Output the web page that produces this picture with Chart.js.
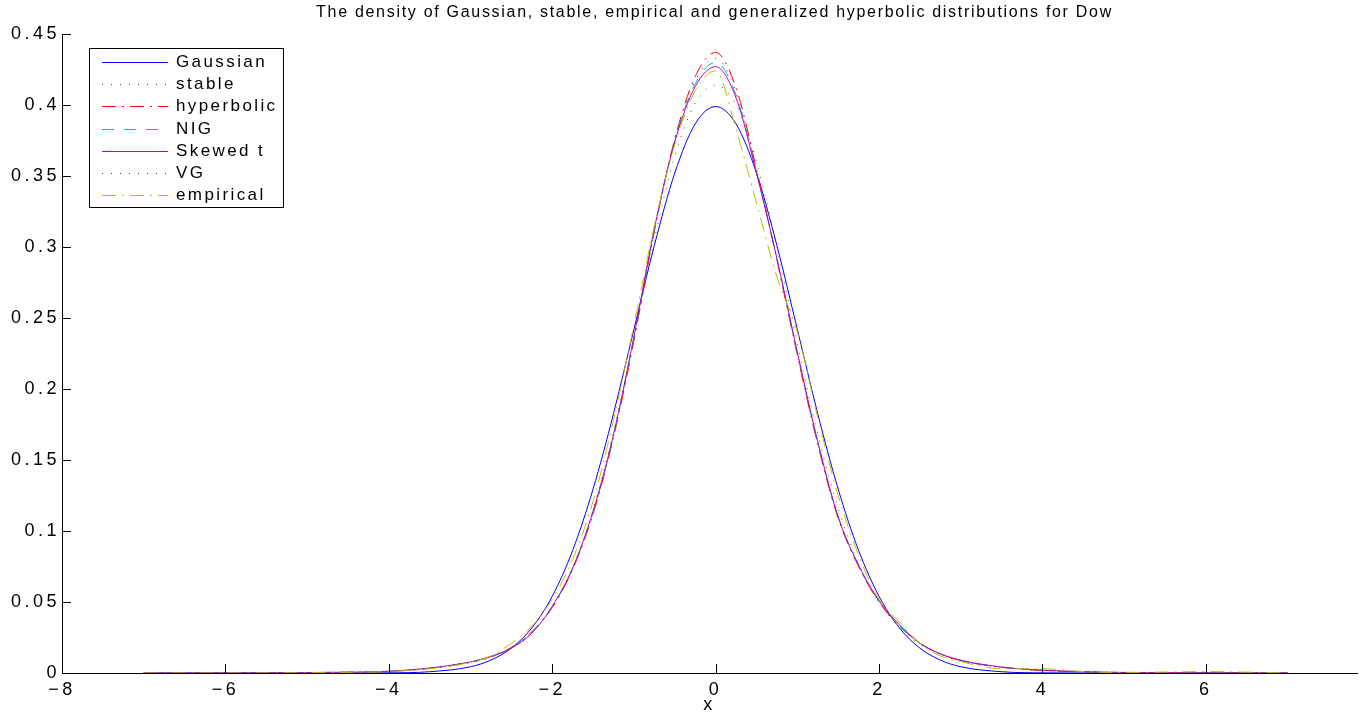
<!DOCTYPE html>
<html>
<head>
<meta charset="utf-8">
<script src="https://cdn.jsdelivr.net/npm/chart.js@4/dist/chart.umd.min.js"></script>
<style>
  html, body { margin: 0; padding: 0; background: #fff; }
  #density-chart { display: block; }
</style>
</head>
<body>
<canvas id="density-chart" width="1368" height="715"></canvas>
<script>
const titleText = 'The density of Gaussian, stable, empirical and generalized hyperbolic distributions for Dow';
const xAxisTitle = 'x';

const xTicks = [-8, -6, -4, -2, 0, 2, 4, 6];
const yTicks = [0, 0.05, 0.1, 0.15, 0.2, 0.25, 0.3, 0.35, 0.4, 0.45];

const seriesNames = ['Gaussian', 'stable', 'hyperbolic', 'NIG', 'Skewed t', 'VG', 'empirical'];

// x grid the densities were read on
const xs = [-7, -6, -5, -4.5, -4, -3.5, -3, -2.75, -2.5, -2.25, -2, -1.75, -1.5, -1.25, -1, -0.75, -0.5, -0.25,
    0, 0.25, 0.5, 0.75, 1, 1.25, 1.5, 1.75, 2, 2.25, 2.5, 2.75, 3, 3.5, 4, 4.5, 5, 6, 7];

const gaussian = [0, 0, 0, 0.00002, 0.0001, 0.0009, 0.0044, 0.0091, 0.0175, 0.0317, 0.054, 0.0863, 0.1295, 0.1826, 0.242, 0.3011, 0.3521, 0.3867,
    0.3989, 0.3867, 0.3521, 0.3011, 0.242, 0.1826, 0.1295, 0.0863, 0.054, 0.0317, 0.0175, 0.0091, 0.0044, 0.0009, 0.0001, 0.00002, 0, 0, 0];

const stable = [0.0001, 0.0002, 0.0004, 0.0007, 0.0012, 0.003, 0.0072, 0.011, 0.018, 0.029, 0.047, 0.074, 0.115, 0.17, 0.236, 0.305, 0.364, 0.401,
    0.414, 0.4, 0.36, 0.3, 0.232, 0.168, 0.116, 0.077, 0.05, 0.032, 0.02, 0.013, 0.0085, 0.004, 0.0018, 0.0009, 0.0005, 0.0002, 0.0001];

const hyperbolic = [0, 0, 0.0002, 0.0005, 0.0011, 0.0033, 0.0078, 0.0118, 0.018, 0.029, 0.046, 0.073, 0.112, 0.166, 0.234, 0.311, 0.376, 0.42,
    0.437, 0.412, 0.355, 0.291, 0.224, 0.161, 0.109, 0.075, 0.05, 0.033, 0.021, 0.0135, 0.0088, 0.004, 0.0018, 0.0008, 0.0003, 0, 0];

const nig = [0, 0.0001, 0.0003, 0.0006, 0.0012, 0.0034, 0.0078, 0.0117, 0.0178, 0.0285, 0.0465, 0.0735, 0.113, 0.167, 0.236, 0.312, 0.375, 0.415,
    0.43, 0.407, 0.353, 0.292, 0.225, 0.162, 0.11, 0.0755, 0.0505, 0.0335, 0.021, 0.0135, 0.0089, 0.0041, 0.0019, 0.0008, 0.0003, 0.0001, 0];

const skewedT = [0, 0.0001, 0.0003, 0.0006, 0.0012, 0.0035, 0.0078, 0.0115, 0.0175, 0.028, 0.047, 0.074, 0.114, 0.168, 0.237, 0.313, 0.374, 0.413,
    0.427, 0.405, 0.352, 0.292, 0.226, 0.163, 0.11, 0.076, 0.051, 0.034, 0.021, 0.0135, 0.009, 0.0042, 0.002, 0.0009, 0.0004, 0.0001, 0];

const vg = [0, 0, 0.0002, 0.0005, 0.0011, 0.0032, 0.0077, 0.0116, 0.0178, 0.0285, 0.0462, 0.0732, 0.1125, 0.1665, 0.235, 0.312, 0.376, 0.417,
    0.433, 0.409, 0.354, 0.291, 0.224, 0.1615, 0.1095, 0.075, 0.05, 0.033, 0.0208, 0.0133, 0.0087, 0.004, 0.0018, 0.0008, 0.0003, 0, 0];

const empirical = [0, 0, 0.0002, 0.0005, 0.001, 0.003, 0.0075, 0.012, 0.021, 0.033, 0.052, 0.08, 0.121, 0.178, 0.245, 0.315, 0.372, 0.41,
    0.424, 0.383, 0.331, 0.279, 0.24, 0.18, 0.125, 0.083, 0.052, 0.036, 0.021, 0.012, 0.008, 0.003, 0.003, 0.001, 0.0004, 0.001, 0];

const seriesValues = [gaussian, stable, hyperbolic, nig, skewedT, vg, empirical];

// matlab default colour order and line specs: - : -. -- - : -.
function getColor(i) {
    return ['#0000ff', '#008000', '#ff0000', '#00bfbf', '#bf00bf', '#404040', '#bfbf00'][i];
}

function getDash(i) {
    return [[], [1, 8], [14, 6, 2, 6], [12, 10], [], [1, 8], [14, 6, 2, 6]][i];
}

const FONT = '"Liberation Sans", Arial, sans-serif';

// matlab draws its ticks inside the axes
const innerTicks = {
    id: 'innerTicks',
    afterDatasetsDraw(chart) {
        const ctx = chart.ctx;
        const area = chart.chartArea;
        const x = chart.scales.x;
        const y = chart.scales.y;
        ctx.save();
        ctx.strokeStyle = '#000';
        ctx.lineWidth = 1;
        ctx.beginPath();
        x.ticks.forEach(t => {
            const px = Math.round(x.getPixelForValue(t.value)) + 0.5;
            ctx.moveTo(px, area.bottom);
            ctx.lineTo(px, area.bottom - 9);
        });
        y.ticks.forEach(t => {
            const py = Math.round(y.getPixelForValue(t.value)) + 0.5;
            ctx.moveTo(area.left, py);
            ctx.lineTo(area.left + 9, py);
        });
        ctx.stroke();
        ctx.restore();
    }
};

// wide letter spacing of the old matlab text
const spacedText = {
    id: 'spacedText',
    beforeDraw(chart) {
        chart.ctx.letterSpacing = '3.5px';
    },
    afterDraw(chart) {
        chart.ctx.letterSpacing = '0px';
    }
};

const titleAndLegend = {
    id: 'titleAndLegend',
    afterDraw(chart) {
        const ctx = chart.ctx;
        const area = chart.chartArea;
        ctx.save();

        ctx.fillStyle = '#000';
        ctx.font = '16px ' + FONT;
        ctx.letterSpacing = '1.7px';
        ctx.textAlign = 'center';
        ctx.textBaseline = 'middle';
        ctx.fillText(titleText, (area.left + area.right) / 2 + 5, 13);

        // legend box in the upper left corner of the axes
        const left = area.left + 27;
        const top = area.top + 14;
        const w = 194;
        const h = 159;
        ctx.fillStyle = '#fff';
        ctx.fillRect(left, top, w, h);
        ctx.strokeStyle = '#000';
        ctx.lineWidth = 1;
        ctx.strokeRect(left + 0.5, top + 0.5, w, h);

        ctx.font = '17px ' + FONT;
        ctx.letterSpacing = '2.4px';
        ctx.textAlign = 'left';
        seriesNames.forEach((name, i) => {
            const rowY = Math.round(top + 14 + i * 22.2) + 0.5;
            ctx.strokeStyle = getColor(i);
            ctx.setLineDash(getDash(i));
            ctx.beginPath();
            ctx.moveTo(left + 13, rowY);
            ctx.lineTo(left + 79, rowY);
            ctx.stroke();
            ctx.setLineDash([]);
            ctx.fillStyle = '#000';
            ctx.fillText(name, left + 87, rowY);
        });
        ctx.restore();
    }
};

new Chart(document.querySelector('#density-chart').getContext('2d'), {
    type: 'line',
    data: {
        datasets: seriesNames.map((name, i) => ({
            label: name,
            data: xs.map((x, j) => ({ x: x, y: seriesValues[i][j] })),
            borderColor: getColor(i),
            backgroundColor: getColor(i),
            borderDash: getDash(i),
            borderWidth: 1,
            pointRadius: 0,
            fill: false,
            cubicInterpolationMode: 'monotone',
            order: seriesNames.length - 1 - i
        }))
    },
    options: {
        responsive: false,
        animation: false,
        events: [],
        layout: { padding: { top: 34, right: 11, left: 0, bottom: 0 } },
        plugins: {
            legend: { display: false },
            title: { display: false },
            tooltip: { enabled: false }
        },
        scales: {
            x: {
                type: 'linear',
                min: -8,
                max: 7.85,
                afterBuildTicks: scale => { scale.ticks = xTicks.map(v => ({ value: v })); },
                afterFit: scale => { scale.height = 42; },
                grid: { display: false, drawTicks: false },
                border: { display: true, color: '#000', width: 1 },
                ticks: {
                    color: '#000',
                    font: { family: FONT, size: 18 },
                    padding: 6,
                    maxRotation: 0,
                    autoSkip: false,
                    callback: v => String(v).replace('-', '\u2212')
                },
                title: {
                    display: true,
                    text: xAxisTitle,
                    color: '#000',
                    font: { family: FONT, size: 18 },
                    padding: { top: 0, bottom: -1 }
                }
            },
            y: {
                min: 0,
                max: 0.45,
                afterBuildTicks: scale => { scale.ticks = yTicks.map(v => ({ value: v })); },
                afterFit: scale => { scale.width = 62; },
                grid: { display: false, drawTicks: false },
                border: { display: true, color: '#000', width: 1 },
                ticks: {
                    color: '#000',
                    font: { family: FONT, size: 18 },
                    padding: 2,
                    autoSkip: false,
                    callback: v => String(v)
                }
            }
        }
    },
    plugins: [spacedText, innerTicks, titleAndLegend]
});
</script>
</body>
</html>
